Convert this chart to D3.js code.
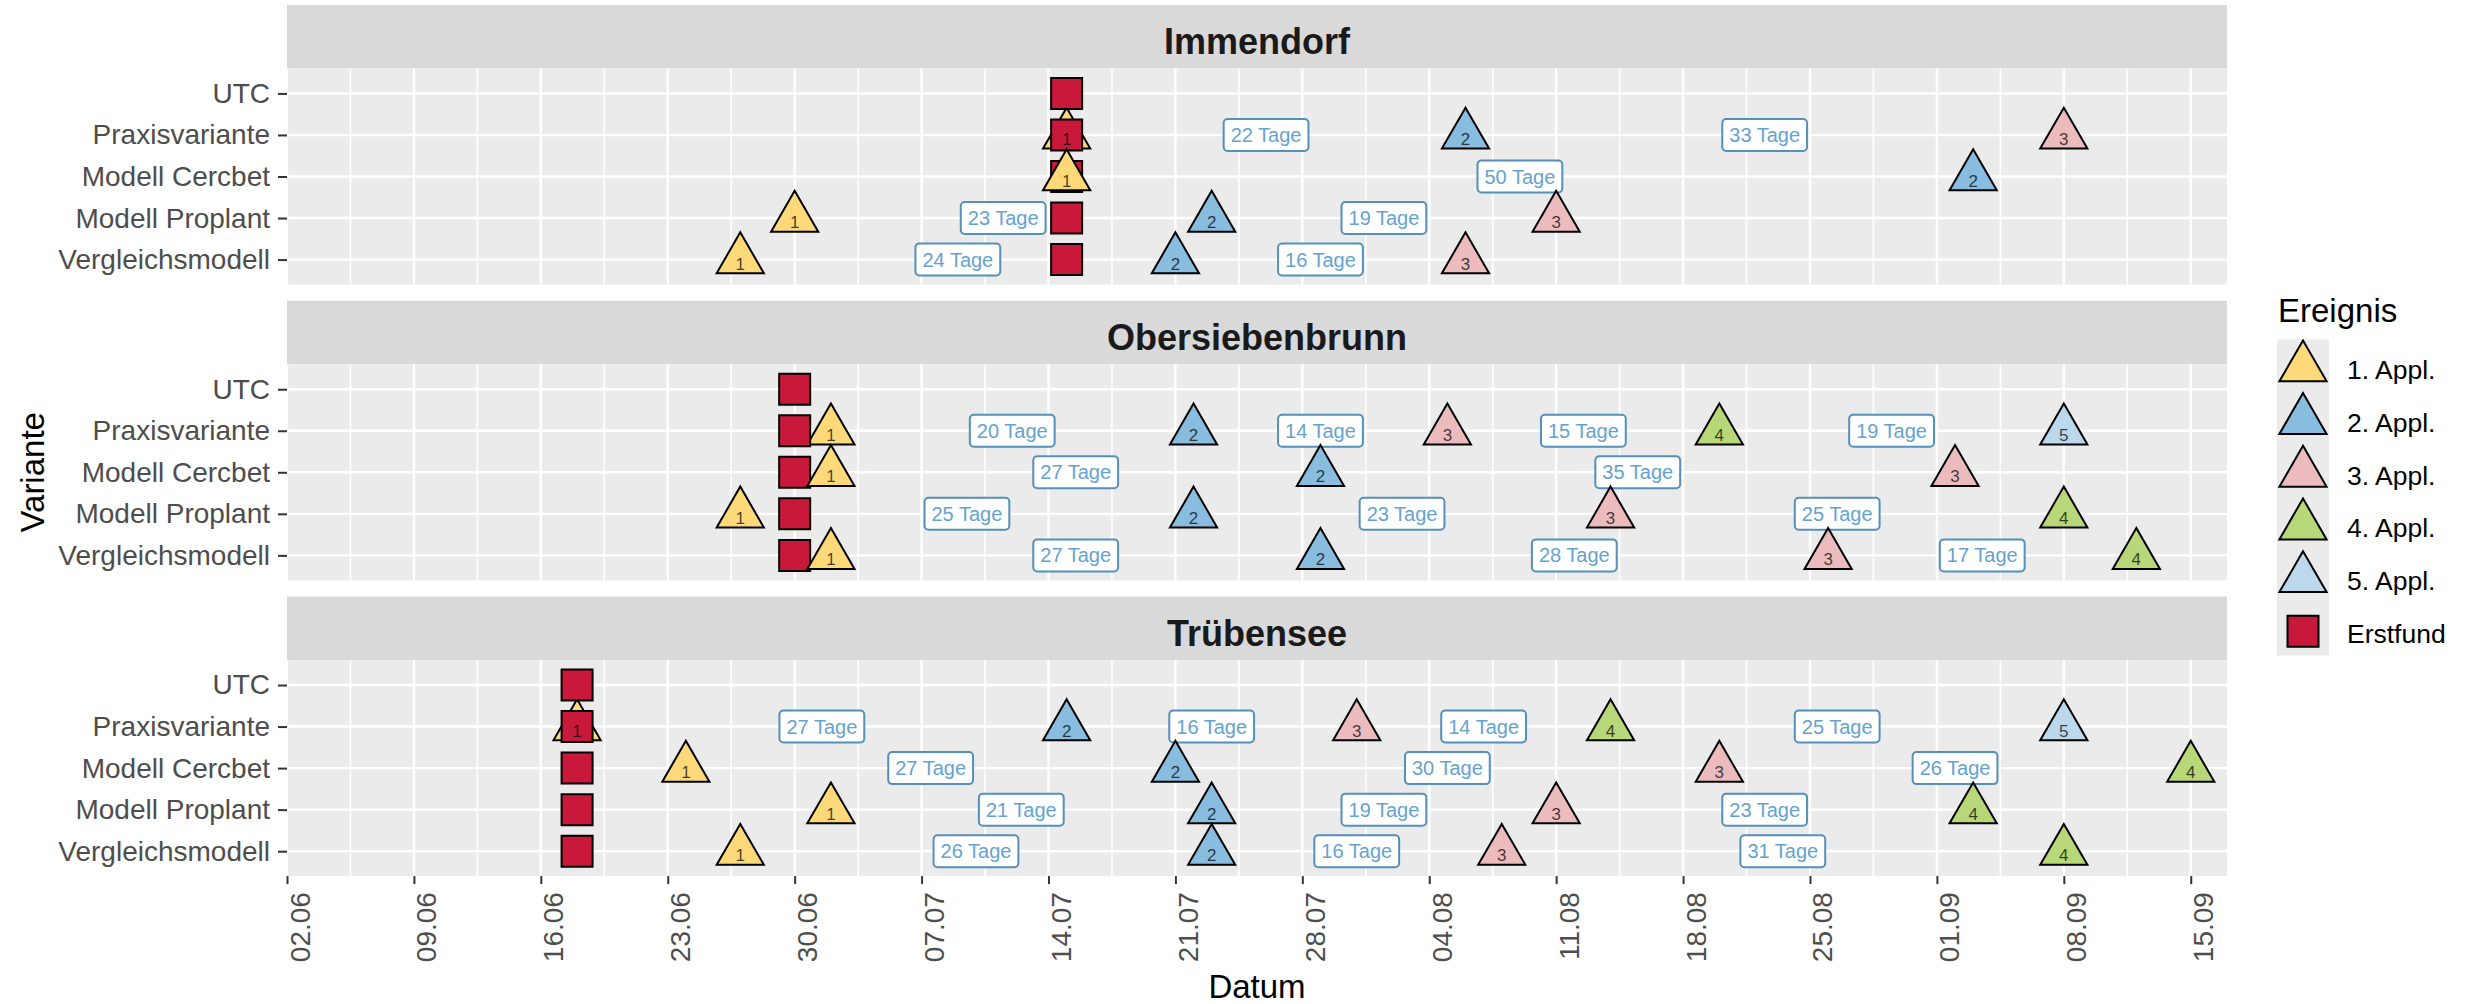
<!DOCTYPE html>
<html>
<head>
<meta charset="utf-8">
<script src="https://cdn.jsdelivr.net/npm/d3@7"></script>
<style>
    body { margin: 0; background: #fff; }
    text { font-family: "Liberation Sans", Arial, sans-serif; }
</style>
</head>
<body>
<svg id="chart" width="2471" height="1004"></svg>
<script>

const sites = ["Immendorf", "Obersiebenbrunn", "Trübensee"];
const variants = ["UTC", "Praxisvariante", "Modell Cercbet", "Modell Proplant", "Vergleichsmodell"];
const events = ["1. Appl.", "2. Appl.", "3. Appl.", "4. Appl.", "5. Appl.", "Erstfund"];
const eventColors = ["#FDD97A", "#88BDE0", "#EBBBBE", "#B7D778", "#BBD8EC", "#C8193A"];

// Erstfund per site (same date in every variant row)
const erstfund = ["15.07", "30.06", "18.06"];

// application dates, one list per variant (same order as variants)
const applImmendorf = [
    [],
    ["15.07", "06.08", "08.09"],
    ["15.07", "03.09"],
    ["30.06", "23.07", "11.08"],
    ["27.06", "21.07", "06.08"]
];
const applObersiebenbrunn = [
    [],
    ["02.07", "22.07", "05.08", "20.08", "08.09"],
    ["02.07", "29.07", "02.09"],
    ["27.06", "22.07", "14.08", "08.09"],
    ["02.07", "29.07", "26.08", "12.09"]
];
const applTruebensee = [
    [],
    ["18.06", "15.07", "31.07", "14.08", "08.09"],
    ["24.06", "21.07", "20.08", "15.09"],
    ["02.07", "23.07", "11.08", "03.09"],
    ["27.06", "23.07", "08.08", "08.09"]
];
const applBySite = [applImmendorf, applObersiebenbrunn, applTruebensee];

const tickLabels = ["02.06", "09.06", "16.06", "23.06", "30.06", "07.07", "14.07", "21.07",
    "28.07", "04.08", "11.08", "18.08", "25.08", "01.09", "08.09", "15.09"];
const xStart = "02.06", xEnd = "17.09";

function parseDay(s) {
    let parts = s.split(".").map(Number);
    return new Date(Date.UTC(2020, parts[1] - 1, parts[0]));
}

const svg = d3.select("#chart");

const panelLeft = 287, panelRight = 2227;
const stripH = 63.5, panelH = 216, blockStep = 295.8, top0 = 5;

const x = d3.scaleUtc()
    .domain([parseDay(xStart), parseDay(xEnd)])
    .range([panelLeft, panelRight]);

const color = d3.scaleOrdinal().domain(events).range(eventColors);

const triSize = 965, sqSize = 961;
const triangle = d3.symbol(d3.symbolTriangle, triSize);
const square = d3.symbol(d3.symbolSquare, sqSize);

const tickDates = tickLabels.map(parseDay);
let minorDates = [];
for (let i = 0; i < tickDates.length - 1; i++) {
    minorDates.push(new Date((+tickDates[i] + +tickDates[i + 1]) / 2));
}

const labelStroke = "#5490BA", labelText = "#65A3CF";

sites.forEach((site, i) => {
    let sTop = top0 + i * blockStep;
    let pTop = sTop + stripH;
    let pBot = pTop + panelH;

    let y = d3.scalePoint().domain(variants).range([pTop, pBot]).padding(0.6);

    let g = svg.append("g");

    // strip
    g.append("rect")
        .attr("x", panelLeft).attr("y", sTop)
        .attr("width", panelRight - panelLeft).attr("height", stripH)
        .attr("fill", "#D9D9D9");
    g.append("text")
        .attr("x", (panelLeft + panelRight) / 2).attr("y", sTop + 49)
        .attr("text-anchor", "middle")
        .attr("font-size", 36).attr("font-weight", "bold")
        .attr("fill", "#1A1A1A")
        .text(site);

    // panel
    g.append("clipPath").attr("id", "clip" + i)
        .append("rect")
        .attr("x", panelLeft).attr("y", pTop)
        .attr("width", panelRight - panelLeft).attr("height", panelH);

    g.append("rect")
        .attr("x", panelLeft).attr("y", pTop)
        .attr("width", panelRight - panelLeft).attr("height", panelH)
        .attr("fill", "#EBEBEB");

    let grid = g.append("g").attr("clip-path", `url(#clip${i})`);
    grid.selectAll(".minor").data(minorDates).enter().append("line")
        .attr("x1", d => x(d)).attr("x2", d => x(d))
        .attr("y1", pTop).attr("y2", pBot)
        .attr("stroke", "#fff").attr("stroke-width", 1.6);
    grid.selectAll(".major").data(tickDates).enter().append("line")
        .attr("x1", d => x(d)).attr("x2", d => x(d))
        .attr("y1", pTop).attr("y2", pBot)
        .attr("stroke", "#fff").attr("stroke-width", 2.4);
    grid.selectAll(".hline").data(variants).enter().append("line")
        .attr("x1", panelLeft).attr("x2", panelRight)
        .attr("y1", d => y(d)).attr("y2", d => y(d))
        .attr("stroke", "#fff").attr("stroke-width", 2.4);

    // y axis
    let yAxis = g.append("g")
        .attr("transform", `translate(${panelLeft},0)`)
        .call(d3.axisLeft(y).tickSize(9).tickPadding(8));
    yAxis.select(".domain").remove();
    yAxis.selectAll("line").attr("stroke", "#333").attr("stroke-width", 2);
    yAxis.selectAll("text")
        .attr("font-size", 28).attr("fill", "#4D4D4D")
        .attr("font-family", "Liberation Sans, Arial, sans-serif");

    // x axis only under the last panel
    if (i === sites.length - 1) {
        let xAxis = g.append("g")
            .attr("transform", `translate(0,${pBot})`)
            .call(d3.axisBottom(x).tickValues(tickDates).tickFormat(d3.utcFormat("%d.%m")).tickSize(8));
        xAxis.select(".domain").remove();
        xAxis.selectAll("line").attr("stroke", "#333").attr("stroke-width", 2);
        xAxis.selectAll("text")
            .attr("transform", "rotate(-90)")
            .attr("x", -16).attr("y", 22).attr("dy", null)
            .attr("text-anchor", "end")
            .attr("font-size", 28).attr("fill", "#4D4D4D")
            .attr("font-family", "Liberation Sans, Arial, sans-serif");
    }

    let appl = applBySite[i];

    // "N Tage" labels between consecutive applications
    let gaps = [];
    variants.forEach((v, vi) => {
        let dates = appl[vi].map(parseDay);
        for (let k = 0; k < dates.length - 1; k++) {
            gaps.push({
                variant: v,
                mid: new Date((+dates[k] + +dates[k + 1]) / 2),
                days: Math.round((dates[k + 1] - dates[k]) / 864e5)
            });
        }
    });

    let labels = g.append("g").selectAll("g").data(gaps).enter().append("g")
        .attr("transform", d => `translate(${x(d.mid)},${y(d.variant)})`);
    labels.each(function (d) {
        let lg = d3.select(this);
        let t = lg.append("text")
            .attr("text-anchor", "middle").attr("y", 7)
            .attr("font-size", 20).attr("fill", labelText)
            .text(`${d.days} Tage`);
        let w = t.node().getComputedTextLength() + 14;
        lg.insert("rect", "text")
            .attr("x", -w / 2).attr("y", -16)
            .attr("width", w).attr("height", 32)
            .attr("rx", 4).attr("ry", 4)
            .attr("fill", "#fff").attr("stroke", labelStroke).attr("stroke-width", 2);
    });

    // points: Praxisvariante triangles sit below the Erstfund squares, the other rows above
    let tri = [];
    variants.forEach((v, vi) => {
        appl[vi].forEach((d, k) => tri.push({ variant: v, date: parseDay(d), n: k + 1, event: events[k] }));
    });
    let sq = variants.map(v => ({ variant: v, date: parseDay(erstfund[i]), event: "Erstfund" }));

    let pts = g.append("g");
    let drawTri = data => pts.selectAll(null).data(data).enter().append("path")
        .attr("d", triangle)
        .attr("transform", d => `translate(${x(d.date)},${y(d.variant)})`)
        .attr("fill", d => color(d.event))
        .attr("stroke", "#000").attr("stroke-width", 2).attr("stroke-linejoin", "miter");

    drawTri(tri.filter(d => d.variant === "Praxisvariante"));
    pts.selectAll(null).data(sq).enter().append("path")
        .attr("d", square)
        .attr("transform", d => `translate(${x(d.date)},${y(d.variant)})`)
        .attr("fill", color("Erstfund"))
        .attr("stroke", "#000").attr("stroke-width", 2);
    drawTri(tri.filter(d => d.variant !== "Praxisvariante"));

    // application number inside the triangle
    g.append("g").selectAll("text").data(tri).enter().append("text")
        .attr("x", d => x(d.date)).attr("y", d => y(d.variant) + 10)
        .attr("text-anchor", "middle")
        .attr("font-size", 17).attr("fill", "#000").attr("fill-opacity", 0.72)
        .text(d => d.n);
});

// axis titles
svg.append("text")
    .attr("x", (panelLeft + panelRight) / 2).attr("y", 998)
    .attr("text-anchor", "middle").attr("font-size", 33).attr("fill", "#000")
    .text("Datum");

let pMid = (top0 + stripH + top0 + 2 * blockStep + stripH + panelH) / 2;
svg.append("text")
    .attr("transform", `translate(44,${pMid}) rotate(-90)`)
    .attr("text-anchor", "middle").attr("font-size", 33).attr("fill", "#000")
    .text("Variante");

// legend
const legend = svg.append("g");
const keyLeft = 2277, keyW = 52, keyTop = 339.3, keyH = 52.7;

legend.append("text")
    .attr("x", 2278).attr("y", 322)
    .attr("font-size", 33).attr("fill", "#000")
    .text("Ereignis");

legend.append("rect")
    .attr("x", keyLeft).attr("y", keyTop)
    .attr("width", keyW).attr("height", keyH * events.length)
    .attr("fill", "#EBEBEB");

events.forEach((e, k) => {
    let cy = keyTop + (k + 0.5) * keyH;
    legend.append("path")
        .attr("d", e === "Erstfund" ? square : triangle)
        .attr("transform", `translate(${keyLeft + keyW / 2},${cy + 2})`)
        .attr("fill", color(e))
        .attr("stroke", "#000").attr("stroke-width", 2);
    legend.append("text")
        .attr("x", 2347).attr("y", cy + 13.5)
        .attr("font-size", 26.5).attr("fill", "#000")
        .text(e);
});

</script>
</body>
</html>
